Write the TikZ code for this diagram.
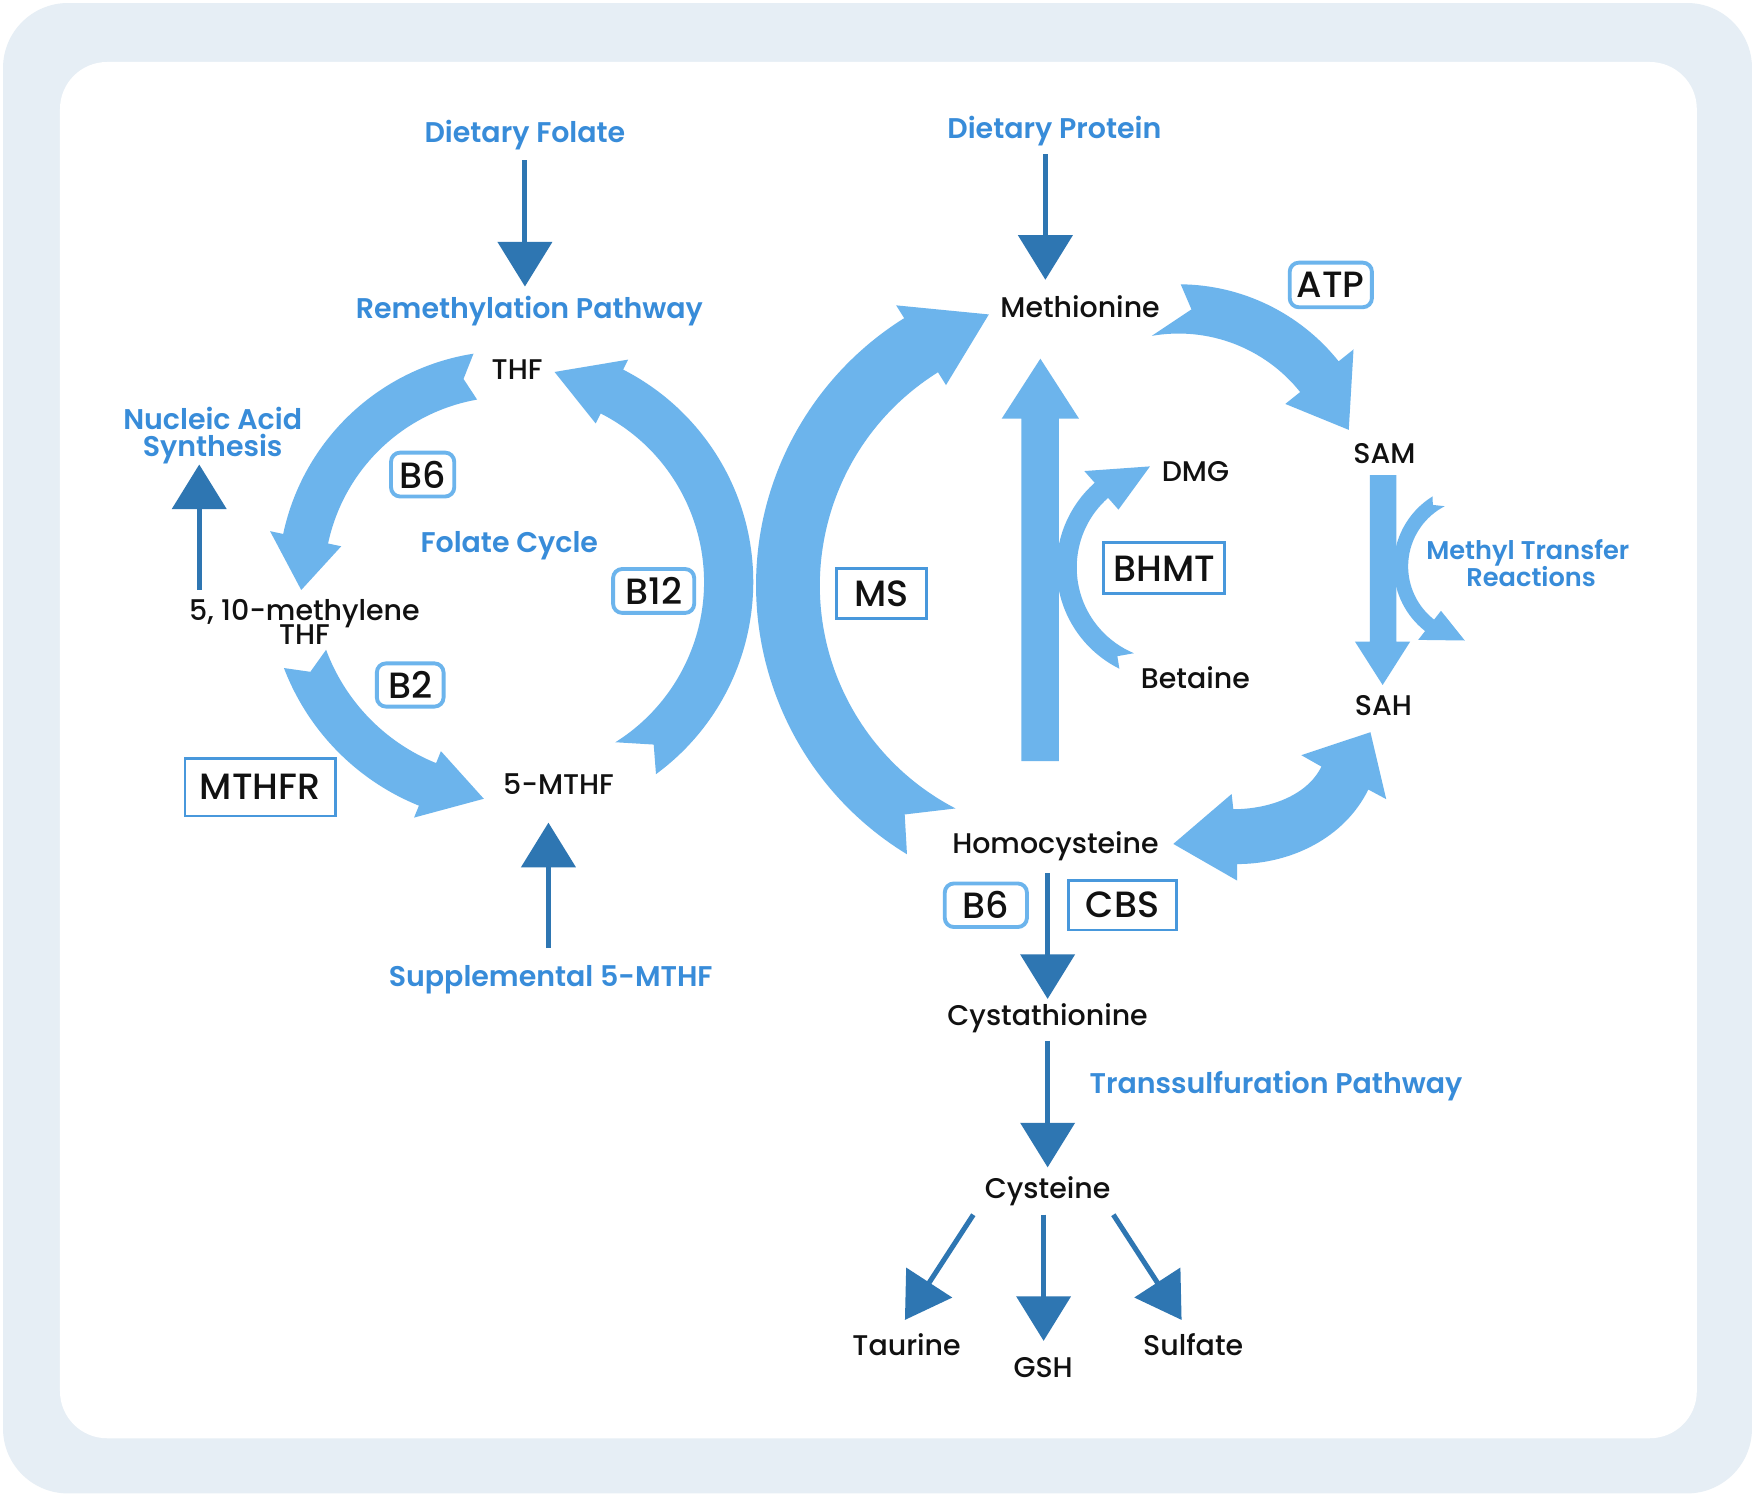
\documentclass[tikz,border=0pt]{standalone}
\usepackage{fontspec}
\setmainfont{Poppins}
\newfontfamily\medf{Poppins Medium}
\newfontfamily\semif{Poppins SemiBold}
\usetikzlibrary{arrows.meta}
\definecolor{lb}{RGB}{108,180,236}
\definecolor{db}{RGB}{46,118,178}
\definecolor{tb}{RGB}{56,140,217}
\definecolor{bgc}{RGB}{230,238,245}
\definecolor{sq}{RGB}{72,152,220}
\definecolor{txt}{RGB}{17,17,17}
% curved band arrow: rmid, halfwidth, tail-outer angle, tail-inner angle, notch angle, head-base angle, tip angle, head half-width
\newcommand\carc[8]{%
  \fill[lb] (-#3:{#1+#2}) arc[start angle=-#3, end angle=-#6, radius={#1+#2}]
    -- (-#6:{#1+#8}) -- (-#7:#1) -- (-#6:{#1-#8}) -- (-#6:{#1-#2})
    arc[start angle=-#6, end angle=-#4, radius={#1-#2}] -- (-#5:#1) -- cycle;}
\begin{document}
\begin{tikzpicture}[x=0.011193cm, y=-0.011193cm,
  lab/.style={anchor=base, inner sep=0, text=txt, font=\medf\fontsize{8.1}{9}\selectfont},
  blab/.style={anchor=base, inner sep=0, text=tb, font=\semif\fontsize{8.1}{9}\selectfont},
  sblab/.style={anchor=base, inner sep=0, text=tb, font=\semif\fontsize{7.3}{8}\selectfont},
  rbox/.style={draw=lb, line width=1.1pt, rounded corners=2.6pt, fill=white, inner sep=0, text=txt, font=\medf\fontsize{10.4}{11}\selectfont},
  sbox/.style={draw=sq, line width=0.8pt, fill=white, inner sep=0, text=txt, font=\medf\fontsize{10.4}{11}\selectfont},
  darr/.style={draw=db, line width=1.43pt, -{Triangle[length=12.7pt,width=15.3pt]}},
  band/.style={fill=lb}
]
\useasboundingbox (0,0) rectangle (1568,1337);
% background frame
\fill[white] (0,0) rectangle (1568,1337);
\fill[bgc, rounded corners=18.5pt] (2.7,2.7) rectangle (1565.3,1334.3);
\fill[white, rounded corners=13.4pt] (53.6,55.4) rectangle (1516,1285);

% ---- folate cycle curved arrows ----
\begin{scope}[shift={(455,520)}]
  \carc{186}{20.5}{98.9}{100}{102.7}{168}{182.2}{32.5}
  \carc{195}{20.5}{200.9}{200.3}{204.3}{248}{263.3}{32}
\end{scope}
\begin{scope}[shift={(460,520)}]
  \carc{191}{22}{306.3}{302.1}{310.5}{423}{439.3}{32}
\end{scope}
% ---- MS arc ----
\begin{scope}[shift={(957,523)}]
  \carc{253}{28.5}{238.6}{242.6}{234}{122}{106.9}{42}
\end{scope}
% ---- Methionine -> SAM ----
\begin{scope}[shift={(1053,437)}]
  \carc{161}{22}{89.4}{99.9}{85.9}{38.6}{19.2}{39}
\end{scope}
% ---- Betaine -> DMG ----
\begin{scope}[shift={(1045,507)}]
  \carc{92}{9}{243.6}{247.4}{239.5}{131.5}{101}{23}
\end{scope}
% ---- methyl transfer ----
\begin{scope}[shift={(1318.6,506)}]
  \carc{67}{6.5}{121.8}{117.4}{125}{231.9}{261.5}{16.5}
\end{scope}
% ---- straight light arrows ----
\fill[band] (912.5,680) -- (912.5,374) -- (895,374) -- (929.5,320.5) -- (964,374) -- (946,374) -- (946,680) -- cycle;
\fill[band] (1224,424.4) -- (1224,573.3) -- (1210.6,573.3) -- (1235.3,612) -- (1259.9,573.3) -- (1247.6,573.3) -- (1247.6,424.4) -- cycle;
% ---- Homocysteine <-> SAH ----
\fill[band] (1048.3,754) -- (1100.4,709.4) -- (1101.9,723)
  .. controls (1132,723) and (1167.4,711.9) .. (1180.6,684.9)
  -- (1162.6,674.7) -- (1224.4,654.2) -- (1238.5,714) -- (1222.5,705.4)
  .. controls (1201.4,748.6) and (1153.4,772) .. (1105.4,772)
  -- (1105.4,786.8) -- cycle;

% ---- labels ----
\node[blab] (dfol) at (469,127) {Dietary Folate};
\node[blab] (remeth) at (473,285) {Remethylation Pathway};
\node[lab] (thf) at (462,339) {THF};
\node[blab] (nuc1) at (190,384) {Nucleic Acid};
\node[blab] (nuc2) at (190,408) {Synthesis};
\node[lab] (mthfa) at (272,554) {5, 10-methylene};
\node[lab] (mthfb) at (272,576) {THF};
\node[blab] (fol) at (455,494) {Folate Cycle};
\node[lab] (fivem) at (499,710) {5-MTHF};
\node[blab] (supp) at (492,881) {Supplemental 5-MTHF};
\node[blab] (dprot) at (942,124) {Dietary Protein};
\node[lab] (met) at (965,284) {Methionine};
\node[lab] (sam) at (1237,414) {SAM};
\node[lab] (dmg) at (1068,430) {DMG};
\node[lab] (bet) at (1068,615) {Betaine};
\node[lab] (sah) at (1236,639) {SAH};
\node[sblab] (mta) at (1365,500) {Methyl Transfer};
\node[sblab] (mtb) at (1368,524) {Reactions};
\node[lab] (hcy) at (943,763) {Homocysteine};
\node[lab] (cysta) at (936,916) {Cystathionine};
\node[blab] (trans) at (1140,977) {Transsulfuration Pathway};
\node[lab] (cys) at (936,1071) {Cysteine};
\node[lab] (tau) at (810,1211) {Taurine};
\node[lab] (gsh) at (932,1231) {GSH};
\node[lab] (sulf) at (1066,1211) {Sulfate};

% ---- enzyme / cofactor boxes ----
\node[rbox, minimum width=18pt, minimum height=12.5pt] (bsix) at (377.6,424) {B6};
\node[rbox, minimum width=23.1pt, minimum height=12.5pt] (btwelve) at (584,528) {B12};
\node[rbox, minimum width=19pt, minimum height=12.3pt] (btwo) at (366.5,612) {B2};
\node[rbox, minimum width=23.4pt, minimum height=12.7pt] (atp) at (1189,254.6) {ATP};
\node[rbox, minimum width=23.4pt, minimum height=12.4pt] (bsixb) at (880.8,808.8) {B6};
\node[sbox, minimum width=42.8pt, minimum height=16.3pt] (mthfr) at (232.5,703.4) {MTHFR};
\node[sbox, minimum width=25.6pt, minimum height=14.3pt] (ms) at (787.3,530.2) {MS};
\node[sbox, minimum width=34.5pt, minimum height=14.5pt] (bhmt) at (1040,507.8) {BHMT};
\node[sbox, minimum width=30.6pt, minimum height=14.2pt] (cbs) at (1002.9,808.6) {CBS};

% ---- dark arrows ----
\coordinate (dfolS) at (469,143);   \coordinate (dfolE) at (469,256);
\coordinate (dprotS) at (934,138);  \coordinate (dprotE) at (934,250);
\coordinate (nucS) at (178,527);    \coordinate (nucE) at (178,415);
\coordinate (suppS) at (490,847);   \coordinate (suppE) at (490,735);
\coordinate (hcyS) at (936,780);    \coordinate (hcyE) at (936,892.5);
\coordinate (cystaS) at (936,930);  \coordinate (cystaE) at (936,1043);
\coordinate (tauS) at (869.6,1085.3); \coordinate (tauE) at (808.5,1179.3);
\coordinate (gshS) at (932.4,1085.3); \coordinate (gshE) at (932.4,1198);
\coordinate (sulfS) at (994.7,1085.3); \coordinate (sulfE) at (1055.7,1179.3);
\draw[darr] (dfolS) -- (dfolE);
\draw[darr] (dprotS) -- (dprotE);
\draw[darr] (nucS) -- (nucE);
\draw[darr] (suppS) -- (suppE);
\draw[darr] (hcyS) -- (hcyE);
\draw[darr] (cystaS) -- (cystaE);
\draw[darr] (tauS) -- (tauE);
\draw[darr] (gshS) -- (gshE);
\draw[darr] (sulfS) -- (sulfE);
\end{tikzpicture}
\end{document}
